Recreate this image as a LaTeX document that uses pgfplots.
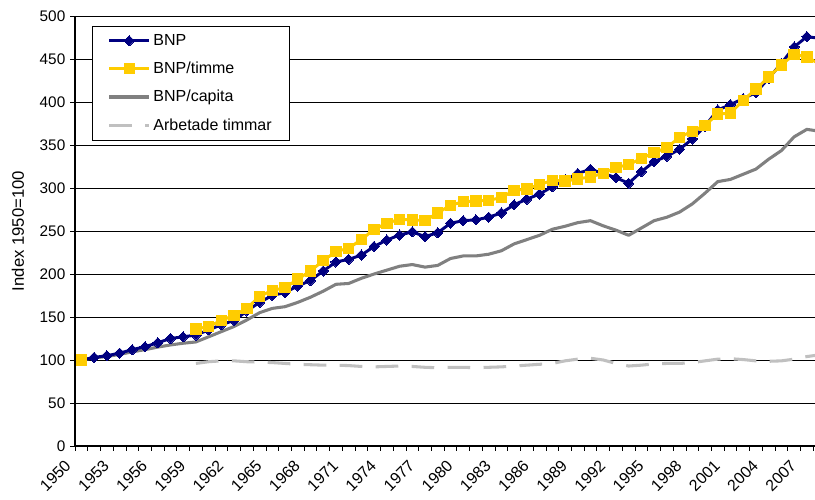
\documentclass[border=0pt]{standalone}
\usepackage{fontspec}
\setmainfont{Liberation Sans}
\usepackage{pgfplots}
\usepackage{pgfplotstable}
\pgfplotsset{compat=1.18}
\definecolor{bnp}{HTML}{000080}
\definecolor{timme}{HTML}{FFCC00}
\definecolor{capita}{HTML}{808080}
\definecolor{arb}{HTML}{C0C0C0}

\pgfplotstableread{
year bnp timme capita arb
1950 100 100 100 nan
1951 103 nan 102.5 nan
1952 105 nan 104 nan
1953 108 nan 106.5 nan
1954 112 nan 109.5 nan
1955 115.5 nan 112 nan
1956 120 nan 115 nan
1957 125 nan 117.5 nan
1958 127 nan 119.5 nan
1959 129 136 121 96
1960 135 139 127 98
1961 141 146 133 99
1962 146 152 139 99
1963 157 160 146.5 98
1964 167 174 155 97.5
1965 175 181 160 97
1966 178.5 184 162 96
1967 186 194 167 95
1968 192.5 203.5 173 94.5
1969 203.5 215.5 180 94
1970 214 226 188 94
1971 217 230 189 93.5
1972 222 240 195 92.5
1973 232 252 200 92
1974 239.5 259 204.5 92.5
1975 245.3 263.6 209 93
1976 249 263 211 92.5
1977 243.5 262 208 91.5
1978 248 271 210 91
1979 259 280 218 91.5
1980 262 284 221 91.5
1981 263 285 221 91
1982 266 285.5 223 91.5
1983 271 289 227 92
1984 280.5 297 235 93
1985 287 299 240 94
1986 293 304 245 95
1987 301.5 309 252 96
1988 309.3 308 255.5 99
1989 317 310.5 259.7 101
1990 321.7 313 262 102
1991 317 317 256 100
1992 312 324 251 96
1993 305.5 327 245 93
1994 319 334.5 253.5 94
1995 330.6 341 262 95.5
1996 337 347 266 96
1997 345 359 272 96
1998 357 366 281.5 97
1999 372 373 294 99
2000 390.7 386 307.4 101
2001 397 387 310 101.5
2002 404 402 316 100.5
2003 411 415 322 99
2004 427.6 429 333.5 98.5
2005 445 443 343.5 99
2006 464 455.5 359.5 101
2007 476 452.5 368.2 104
2008 474 444 366 106
}\data

\pgfplotsset{
  bnpstyle/.style={color=bnp, line width=2.2pt, line join=round, mark=square*, mark size=2.7pt, mark options={rotate=45, solid, fill=bnp, draw=bnp, line width=0pt}},
  timmestyle/.style={color=timme, line width=2.2pt, line join=round, mark=square*, mark size=3.9pt, mark options={solid, fill=timme, draw=timme, line width=0pt}},
  capitastyle/.style={color=capita, line width=2.3pt, line join=round, no markers},
  arbstyle/.style={color=arb, line width=2.3pt, dash pattern=on 17pt off 10pt, no markers},
}

\begin{document}
\begin{tikzpicture}
\begin{axis}[
  scale only axis,
  width=555pt, height=322.5pt,
  xmin=1949.5, xmax=2007.64,
  ymin=0, ymax=500,
  axis x line=bottom, axis y line=left,
  axis line style={-, line width=0.9pt, black},
  font=\fontsize{12}{14}\selectfont,
  ticklabel style={font=\fontsize{11.5}{13.5}\selectfont},
  /pgf/number format/assume math mode=true,
  /pgf/number format/1000 sep={},
  ytick={0,50,...,500},
  ymajorgrids,
  major grid style={black, line width=0.6pt},
  tick align=outside,
  major tick length=3.75pt,
  minor tick length=3.75pt,
  ytick style={black, line width=0.6pt},
  xtick={1950,1953,...,2007},
  major x tick style={draw=none},
  minor xtick={1949.5,1950.5,...,2007.5},
  minor x tick style={black, line width=0.6pt},
  xticklabel style={font=\fontsize{12}{14}\selectfont, xshift=-7.6pt, yshift=-6.5pt, rotate=45, anchor=east},
  ylabel={Index 1950=100},
  ylabel style={at={(axis description cs:-0.077,0.5)}, anchor=center, font=\fontsize{12.5}{14}\selectfont},
  unbounded coords=jump,
  legend cell align=left,
  legend style={at={(axis description cs:0.023,0.977)}, anchor=north west, draw=black, line width=0.6pt,
    font=\fontsize{12}{14}\selectfont, inner xsep=11.5pt, inner ysep=4pt, row sep=7pt},
  legend image code/.code={\draw[mark repeat=2,mark phase=2,#1] plot coordinates {(0pt,0pt) (15pt,0pt) (30pt,0pt)};},
]
\addlegendimage{bnpstyle}\addlegendentry{BNP}
\addlegendimage{timmestyle}\addlegendentry{BNP/timme}
\addlegendimage{capitastyle}\addlegendentry{BNP/capita}
\addlegendimage{arbstyle}\addlegendentry{Arbetade timmar}
\addplot[capitastyle, forget plot] table[x=year, y=capita] {\data};
\addplot[arbstyle, forget plot] table[x=year, y=arb] {\data};
\addplot[bnpstyle, forget plot] table[x=year, y=bnp] {\data};
\addplot[timmestyle, forget plot] table[x=year, y=timme] {\data};
\coordinate (sw) at (rel axis cs:0,0);
\end{axis}
\pgfresetboundingbox
\path (sw) ++(-56.25pt,-40.5pt) rectangle ++(611.25pt,375pt);
\end{tikzpicture}
\end{document}
